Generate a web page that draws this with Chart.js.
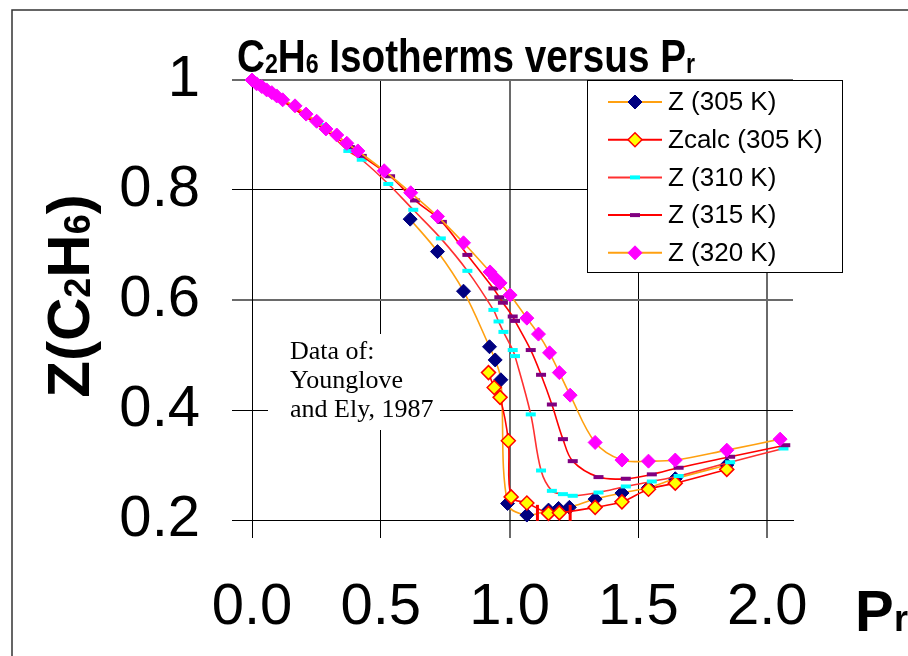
<!DOCTYPE html>
<html>
<head>
<meta charset="utf-8">
<script src="https://cdn.jsdelivr.net/npm/chart.js@4.4.0/dist/chart.umd.min.js"></script>
<style>
    html, body { margin: 0; padding: 0; background: #fff; }
</style>
</head>
<body>
<canvas id="grafico" width="908" height="656"></canvas>
<script>
// dados (Pr, Z)
var pr305 = [0.614, 0.720, 0.821, 0.922, 0.944, 0.966, 0.992, 1.067, 1.151, 1.190, 1.232, 1.332, 1.436, 1.539, 1.643, 1.843];
var z305 = [0.747, 0.688, 0.616, 0.515, 0.491, 0.455, 0.230, 0.209, 0.218, 0.221, 0.223, 0.238, 0.249, 0.259, 0.275, 0.300];

var prCalc = [0.918, 0.940, 0.963, 0.995, 1.006, 1.067, 1.151, 1.193, 1.332, 1.436, 1.539, 1.643, 1.843];
var zCalc = [0.468, 0.441, 0.423, 0.344, 0.242, 0.231, 0.212, 0.213, 0.223, 0.233, 0.256, 0.267, 0.292];

var pr310 = [0, 0.264, 0.374, 0.426, 0.529, 0.626, 0.733, 0.836, 0.937, 0.957, 0.976, 1.012, 1.021, 1.082, 1.122, 1.164, 1.207, 1.245, 1.345, 1.451, 1.552, 1.656, 1.856, 2.063];
var z310 = [1.000, 0.918, 0.871, 0.855, 0.811, 0.764, 0.712, 0.653, 0.582, 0.561, 0.542, 0.509, 0.498, 0.392, 0.290, 0.253, 0.247, 0.244, 0.250, 0.261, 0.270, 0.280, 0.305, 0.330];

var pr315 = [0, 0.380, 0.426, 0.536, 0.633, 0.737, 0.836, 0.937, 0.960, 0.974, 1.012, 1.021, 1.082, 1.122, 1.164, 1.207, 1.245, 1.345, 1.451, 1.552, 1.656, 1.856, 2.070];
var z315 = [1.000, 0.878, 0.862, 0.825, 0.781, 0.742, 0.682, 0.621, 0.605, 0.595, 0.570, 0.562, 0.509, 0.464, 0.410, 0.347, 0.307, 0.278, 0.275, 0.283, 0.295, 0.315, 0.336];

var pr320 = [0, 0.018, 0.038, 0.057, 0.077, 0.096, 0.119, 0.167, 0.210, 0.251, 0.287, 0.329, 0.368, 0.411, 0.513, 0.616, 0.720, 0.821, 0.924, 0.944, 0.963, 1.002, 1.067, 1.112, 1.155, 1.193, 1.235, 1.332, 1.436, 1.539, 1.643, 1.843, 2.050];
var z320 = [1.000, 0.993, 0.988, 0.982, 0.977, 0.971, 0.964, 0.953, 0.938, 0.925, 0.911, 0.900, 0.885, 0.871, 0.835, 0.795, 0.752, 0.704, 0.651, 0.640, 0.631, 0.609, 0.567, 0.538, 0.504, 0.468, 0.427, 0.341, 0.309, 0.307, 0.309, 0.327, 0.347];

// marcas vermelhas soltas perto do minimo
var prMarca = [1.108, 1.235];
var zMarca = [0.213, 0.213];

var xTicks = [0, 0.5, 1.0, 1.5, 2.0];
var yTicks = [0.2, 0.4, 0.6, 0.8, 1.0];

var fonte = '"Liberation Sans", Arial, sans-serif';
var laranja = '#FFA010';
var vermelho = '#FF0000';

function pontos(xs, ys) {
    return xs.map(function (v, i) { return { x: v, y: ys[i] }; });
}

// texto com subscritos: partes = [[texto, sub], ...]
function larguraRica(ctx, partes, size) {
    var w = 0;
    partes.forEach(function (p) {
        ctx.font = 'bold ' + (p[1] ? size * 0.6 : size) + 'px ' + fonte;
        w += ctx.measureText(p[0]).width;
    });
    return w;
}

function desenhaRico(ctx, partes, x, y, size) {
    ctx.textAlign = 'left';
    ctx.textBaseline = 'alphabetic';
    partes.forEach(function (p) {
        ctx.font = 'bold ' + (p[1] ? size * 0.6 : size) + 'px ' + fonte;
        ctx.fillText(p[0], x, y + (p[1] ? size * 0.02 : 0));
        x += ctx.measureText(p[0]).width;
    });
}

var decoracao = {
    id: 'decoracao',
    beforeDatasetsDraw: function (chart) {
        var ctx = chart.ctx;
        ctx.save();
        // caixa de texto "Data of"
        ctx.fillStyle = '#fff';
        ctx.fillRect(268, 334, 172, 96);
        ctx.fillStyle = '#000';
        ctx.font = '26px "Liberation Serif", "Times New Roman", serif';
        ctx.textAlign = 'left';
        ctx.textBaseline = 'middle';
        ctx.fillText('Data of:', 290, 352);
        ctx.fillText('Younglove', 290, 381);
        ctx.fillText('and Ely, 1987', 290, 410);
        ctx.restore();
    },
    afterDraw: function (chart) {
        var ctx = chart.ctx;
        ctx.save();
        // moldura
        ctx.strokeStyle = '#333';
        ctx.lineWidth = 1.5;
        ctx.strokeRect(12, 10, 920, 700);

        // titulo
        ctx.fillStyle = '#000';
        var tit = [['C', 0], ['2', 1], ['H', 0], ['6', 1], [' Isotherms versus P', 0], ['r', 1]];
        var wt = larguraRica(ctx, tit, 47);
        var sx = 458 / wt;
        ctx.save();
        ctx.translate(237, 72);
        ctx.scale(sx, 1);
        desenhaRico(ctx, tit, 0, 0, 47);
        ctx.restore();

        // titulo do eixo y
        var ty = [['Z(C', 0], ['2', 1], ['H', 0], ['6', 1], [')', 0]];
        var wy = larguraRica(ctx, ty, 60);
        ctx.save();
        ctx.translate(89, 296);
        ctx.rotate(-Math.PI / 2);
        desenhaRico(ctx, ty, -wy / 2, 0, 60);
        ctx.restore();

        // titulo do eixo x
        ctx.font = 'bold 58px ' + fonte;
        ctx.textBaseline = 'alphabetic';
        ctx.fillText('P', 855, 631);
        ctx.font = 'bold 36px ' + fonte;
        ctx.fillText('r', 894, 631);

        // legenda
        ctx.fillStyle = '#fff';
        ctx.fillRect(587, 80, 255, 192);
        ctx.strokeStyle = '#000';
        ctx.lineWidth = 1;
        ctx.strokeRect(587.5, 80.5, 255, 192);
        var ds = chart.data.datasets.filter(function (d) { return d.naLegenda; });
        ds.forEach(function (d, i) {
            var y = 102 + i * 37.7;
            ctx.strokeStyle = d.borderColor;
            ctx.lineWidth = 2;
            ctx.beginPath();
            ctx.moveTo(608, y);
            ctx.lineTo(662, y);
            ctx.stroke();
            ctx.fillStyle = d.pointBackgroundColor;
            ctx.strokeStyle = d.pointBorderColor;
            ctx.lineWidth = d.pointBorderWidth;
            Chart.helpers.drawPoint(ctx, {
                pointStyle: d.pointStyle,
                rotation: d.pointRotation || 0,
                radius: d.pointRadius,
                borderWidth: d.pointBorderWidth
            }, 635, y);
            ctx.fillStyle = '#000';
            ctx.font = '26px ' + fonte;
            ctx.textAlign = 'left';
            ctx.textBaseline = 'middle';
            ctx.fillText(d.label, 668, y + 1);
        });
        ctx.restore();
    }
};

function corGrade(c) {
    var v = c.tick ? c.tick.value : null;
    return (v === 1 || v === 0.6 || v === 2) ? '#6a6a6a' : '#000';
}
function larguraGrade(c) {
    var v = c.tick ? c.tick.value : null;
    return (v === 1 || v === 0.6 || v === 2) ? 2 : 1;
}

var ctx = document.getElementById('grafico');
var grafico = new Chart(ctx, {
    type: 'scatter',
    data: {
        datasets: [
            {
                label: 'Z (305 K)', naLegenda: true, order: 4,
                data: pontos(pr305, z305),
                showLine: true, borderColor: laranja, borderWidth: 1.6, tension: 0.35,
                pointStyle: 'rectRot', pointRadius: 7, pointBackgroundColor: '#000080',
                pointBorderColor: '#000080', pointBorderWidth: 1
            },
            {
                label: 'Zcalc (305 K)', naLegenda: true, order: 3,
                data: pontos(prCalc, zCalc),
                showLine: true, borderColor: vermelho, borderWidth: 1.6, tension: 0.35,
                pointStyle: 'rectRot', pointRadius: 7, pointBackgroundColor: '#FFFF00',
                pointBorderColor: vermelho, pointBorderWidth: 1.5
            },
            {
                label: 'marcas', naLegenda: false, order: 2.5,
                data: pontos(prMarca, zMarca),
                showLine: false, borderColor: vermelho,
                pointStyle: 'line', pointRotation: 90, pointRadius: 8,
                pointBackgroundColor: vermelho, pointBorderColor: vermelho, pointBorderWidth: 3
            },
            {
                label: 'Z (310 K)', naLegenda: true, order: 2,
                data: pontos(pr310, z310),
                showLine: true, borderColor: '#FF3030', borderWidth: 1.6, tension: 0.35,
                pointStyle: 'line', pointRadius: 5, pointBackgroundColor: '#00FFFF',
                pointBorderColor: '#00FFFF', pointBorderWidth: 4
            },
            {
                label: 'Z (315 K)', naLegenda: true, order: 1,
                data: pontos(pr315, z315),
                showLine: true, borderColor: vermelho, borderWidth: 1.6, tension: 0.35,
                pointStyle: 'line', pointRadius: 5, pointBackgroundColor: '#800080',
                pointBorderColor: '#800080', pointBorderWidth: 4
            },
            {
                label: 'Z (320 K)', naLegenda: true, order: 0,
                data: pontos(pr320, z320),
                showLine: true, borderColor: laranja, borderWidth: 1.6, tension: 0.35,
                pointStyle: 'rectRot', pointRadius: 7, pointBackgroundColor: '#FF00FF',
                pointBorderColor: '#FF00FF', pointBorderWidth: 1
            }
        ]
    },
    options: {
        responsive: false,
        animation: false,
        events: [],
        clip: false,
        layout: { padding: { top: 80, right: 115, left: 0, bottom: 0 } },
        plugins: {
            legend: { display: false },
            tooltip: { enabled: false },
            title: { display: false }
        },
        scales: {
            x: {
                type: 'linear', min: 0, max: 2.1,
                afterBuildTicks: function (s) { s.ticks = xTicks.map(function (v) { return { value: v }; }); },
                afterFit: function (s) { s.height = 136; s.paddingLeft = 0; s.paddingRight = 0; },
                grid: { color: corGrade, lineWidth: larguraGrade, tickLength: 18 },
                border: { color: '#000', width: 1 },
                ticks: {
                    color: '#000', padding: 35, maxRotation: 0, autoSkip: false,
                    font: { family: fonte, size: 58 },
                    callback: function (v) { return v.toFixed(1); }
                }
            },
            y: {
                type: 'linear', min: 0.2, max: 1.0,
                afterBuildTicks: function (s) { s.ticks = yTicks.map(function (v) { return { value: v }; }); },
                afterFit: function (s) { s.width = 252; s.paddingTop = 0; s.paddingBottom = 0; },
                grid: { color: corGrade, lineWidth: larguraGrade, tickLength: 20 },
                border: { color: '#000', width: 1 },
                ticks: {
                    color: '#000', padding: 32,
                    font: { family: fonte, size: 58 },
                    callback: function (v) { return v === 1 ? '1' : v.toFixed(1); }
                }
            }
        }
    },
    plugins: [decoracao]
});
</script>
</body>
</html>
